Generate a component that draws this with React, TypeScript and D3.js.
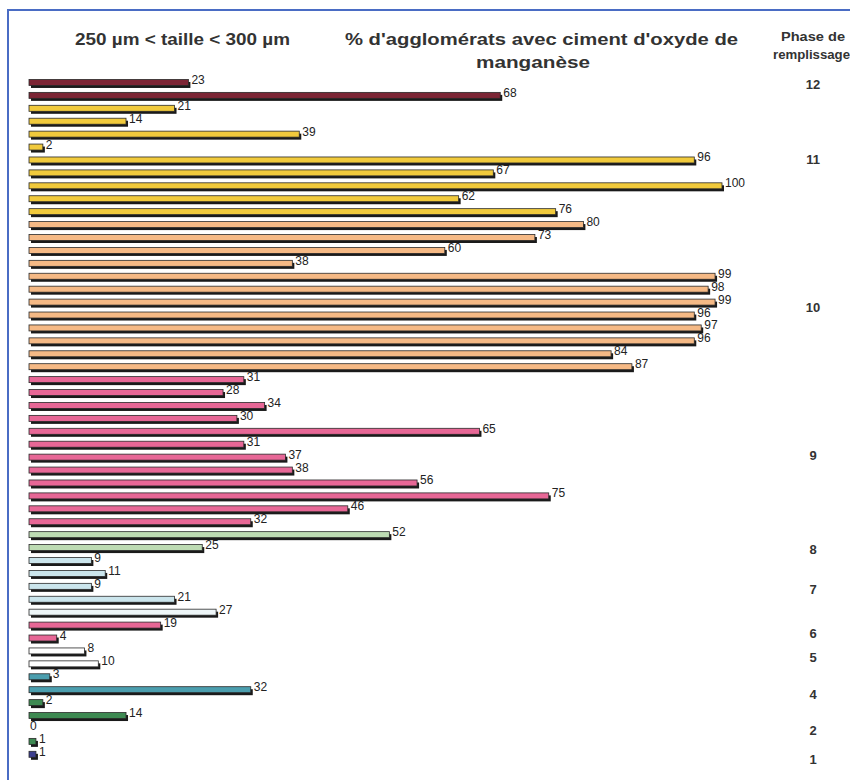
import React from "react";
import * as d3 from "d3";

const values: number[] = [
  23, 68, 21, 14, 39, 2, 96, 67, 100, 62, 76, 80, 73, 60, 38, 99, 98, 99, 96, 97, 96, 84, 87,
  31, 28, 34, 30, 65, 31, 37, 38, 56, 75, 46, 32, 52, 25, 9, 11, 9, 21, 27, 19, 4, 8, 10, 3, 32,
  2, 14, 0, 1, 1,
];

const colorKeys: string[] = [
  "maroon", "maroon",
  "yellow", "yellow", "yellow", "yellow", "yellow", "yellow", "yellow", "yellow", "yellow",
  "peach", "peach", "peach", "peach", "peach", "peach", "peach", "peach", "peach", "peach", "peach", "peach",
  "pink", "pink", "pink", "pink", "pink", "pink", "pink", "pink", "pink", "pink", "pink", "pink",
  "lightgreen", "lightgreen",
  "lightblue", "lightblue", "lightblue", "lightblue", "paleblue",
  "pink", "pink",
  "white", "white",
  "teal", "teal",
  "green", "green", "green", "green",
  "blue",
];

const palette: Record<string, string> = {
  maroon: "#7c2535",
  yellow: "#f1ca3c",
  peach: "#f5b985",
  pink: "#e76796",
  lightgreen: "#bddbb3",
  lightblue: "#cbe5ec",
  paleblue: "#eef6f8",
  white: "#ffffff",
  teal: "#4b9eae",
  green: "#3e8a52",
  blue: "#3d3f8e",
};

const phaseLabels: string[] = ["12", "11", "10", "9", "8", "7", "6", "5", "4", "2", "1"];
// anchor of each phase label, in bar-row units
const phaseRows: number[] = [0.15, 5.95, 17.4, 28.8, 36.1, 39.2, 42.6, 44.5, 47.3, 50.1, 52.4];

export default function App() {
  const W = 850;
  const H = 780;
  const rows = values.map((_, i) => i);
  const y = d3.scaleBand<number>().domain(rows).range([76, 76 + values.length * 12.92]).padding(0);
  const x = d3.scaleLinear().domain([0, 100]).range([29, 722]);
  const bh = 6;
  const rowY = d3.scaleLinear().domain([0, values.length]).range([76, 76 + values.length * 12.92]);

  const narrow = "'Liberation Sans Narrow', 'Arial Narrow', 'Liberation Sans', Arial, sans-serif";
  const sans = "'Liberation Sans', Arial, sans-serif";

  return (
    <svg
      width={W}
      height={H}
      viewBox={`0 0 ${W} ${H}`}
      style={{ position: "absolute", left: 0, top: 0, background: "#fff" }}
    >
      <rect x={0} y={0} width={W} height={H} fill="#fff" />
      {/* frame */}
      <line x1={7} y1={10} x2={W} y2={10} stroke="#4a6cc4" strokeWidth={2} />
      <line x1={8} y1={10} x2={8} y2={H} stroke="#4a6cc4" strokeWidth={2} />

      {/* titles */}
      <text x={75} y={45} textLength={215} lengthAdjust="spacingAndGlyphs" fontFamily={narrow} fontWeight="bold" fontSize={17} fill="#333">
        250 µm &lt; taille &lt; 300 µm
      </text>
      <text x={345} y={45} textLength={393} lengthAdjust="spacingAndGlyphs" fontFamily={narrow} fontWeight="bold" fontSize={17} fill="#333">
        % d'agglomérats avec ciment d'oxyde de
      </text>
      <text x={476} y={68} textLength={114} lengthAdjust="spacingAndGlyphs" fontFamily={narrow} fontWeight="bold" fontSize={17} fill="#333">
        manganèse
      </text>
      <text x={781} y={41} textLength={64} lengthAdjust="spacingAndGlyphs" fontFamily={sans} fontWeight="bold" fontSize={12.5} fill="#333">
        Phase de
      </text>
      <text x={773} y={59} textLength={77} lengthAdjust="spacingAndGlyphs" fontFamily={sans} fontWeight="bold" fontSize={12.5} fill="#333">
        remplissage
      </text>

      {/* bars */}
      {values.map((v, i) => {
        const cy = (y(i) as number) + y.bandwidth() / 2;
        const w = x(v) - x(0);
        return (
          <g key={i}>
            {v > 0 && (
              <>
                <rect x={x(0) + 2} y={cy - bh / 2 + 2.5} width={w} height={bh} fill="#1a1a1a" />
                <rect
                  x={x(0)}
                  y={cy - bh / 2}
                  width={w}
                  height={bh}
                  fill={palette[colorKeys[i]]}
                  stroke="#2a2a2a"
                  strokeWidth={0.8}
                />
              </>
            )}
            <text
              x={x(v) + (v > 0 ? 3 : 1)}
              y={cy + 1.5}
              fontFamily={sans}
              fontSize={12}
              fill="#222"
            >
              {v}
            </text>
          </g>
        );
      })}

      {/* phase labels */}
      {phaseLabels.map((p, i) => (
        <text
          key={p}
          x={813}
          y={rowY(phaseRows[i] + 0.5) + 5}
          textAnchor="middle"
          fontFamily={sans}
          fontWeight="bold"
          fontSize={13}
          fill="#333"
        >
          {p}
        </text>
      ))}
    </svg>
  );
}
